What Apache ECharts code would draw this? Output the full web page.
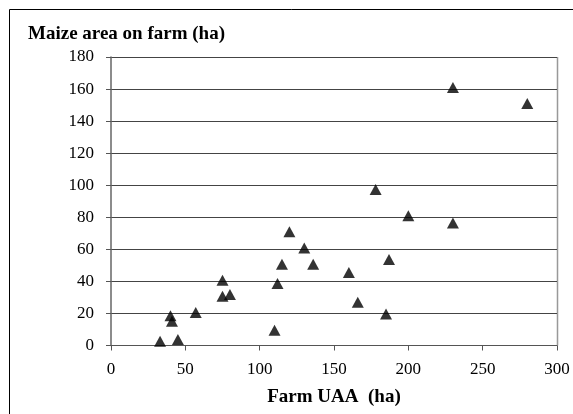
<!DOCTYPE html>
<html><head><meta charset="utf-8">
<script src="https://cdn.jsdelivr.net/npm/echarts@6/dist/echarts.min.js"></script>
<style>html,body{margin:0;padding:0;background:#fff}#c{width:573px;height:414px}</style>
</head><body><div id="c"></div>
<script>
const farmUAA = [33, 40, 41, 45, 57, 75, 75, 80, 110, 112, 115, 120, 130, 136, 160, 166, 178, 185, 187, 200, 230, 230, 280];
const maizeArea = [2.7, 18.5, 15.2, 3.7, 20.6, 40.7, 30.8, 31.8, 9.5, 38.7, 50.7, 70.9, 60.9, 50.7, 45.5, 27, 97.3, 19.7, 53.6, 80.9, 161, 76.5, 151];
const xTicks = [0, 50, 100, 150, 200, 250, 300];
const yTicks = [0, 20, 40, 60, 80, 100, 120, 140, 160, 180];
const points = farmUAA.map((x, i) => [x, maizeArea[i]]);
const font = 'Liberation Serif';
const chart = echarts.init(document.getElementById('c'), null, {renderer: 'canvas'});
chart.setOption({
  animation: false,
  backgroundColor: '#fff',
  graphic: [
    {type: 'rect', shape: {x: 9.5, y: 9.5, width: 700, height: 700}, style: {fill: 'none', stroke: '#000', lineWidth: 1}},
    {type: 'text', left: 28, top: 25, style: {text: 'Maize area on farm (ha)', font: 'bold 19px "Liberation Serif"', fill: '#000'}},
    {type: 'line', shape: {x1: 557.5, y1: 57, x2: 557.5, y2: 345.5}, style: {stroke: '#999', lineWidth: 1.5}}
  ],
  grid: {left: 111, top: 57, right: 16, bottom: 68.5},
  xAxis: {
    type: 'value', min: 0, max: 300, interval: 50,
    name: 'Farm UAA  (ha)', nameLocation: 'middle', nameGap: 42,
    nameTextStyle: {fontFamily: font, fontWeight: 'bold', fontSize: 19, color: '#000'},
    axisLine: {show: true, lineStyle: {color: '#555', width: 1}},
    axisTick: {show: true, length: 5, lineStyle: {color: '#555'}},
    axisLabel: {fontFamily: font, fontSize: 17, color: '#000', margin: 16},
    splitLine: {show: false}
  },
  yAxis: {
    type: 'value', min: 0, max: 180, interval: 20,
    axisLine: {show: true, lineStyle: {color: '#666', width: 1.5}},
    axisTick: {show: true, length: 5, lineStyle: {color: '#555'}},
    axisLabel: {fontFamily: font, fontSize: 17, color: '#000', margin: 17},
    splitLine: {show: true, lineStyle: {color: '#444', width: 1}}
  },
  series: [{
    type: 'scatter', data: points, symbol: 'triangle', symbolSize: [12, 11],
    itemStyle: {color: '#000'}
  }]
});
</script></body></html>
